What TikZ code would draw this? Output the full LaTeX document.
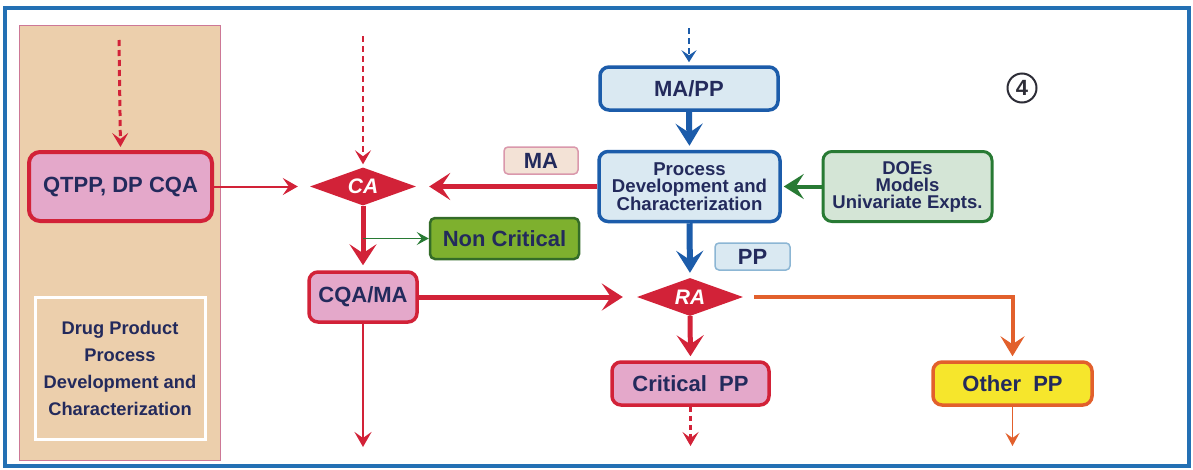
\documentclass[tikz,border=0pt]{standalone}
\usepackage{fontspec}
\setmainfont{Liberation Sans}
\usetikzlibrary{arrows.meta,shapes.geometric}

\definecolor{navy}{RGB}{35,42,92}
\definecolor{frameblue}{RGB}{35,112,180}
\definecolor{cred}{RGB}{210,34,56}
\definecolor{cpink}{RGB}{228,168,202}
\definecolor{cblue}{RGB}{28,92,170}
\definecolor{cltblue}{RGB}{218,233,242}
\definecolor{cgreen}{RGB}{40,122,52}
\definecolor{cltgreen}{RGB}{212,229,214}
\definecolor{ncfill}{RGB}{126,176,46}
\definecolor{ncdraw}{RGB}{52,108,40}
\definecolor{corange}{RGB}{226,96,44}
\definecolor{cyellow}{RGB}{246,230,44}
\definecolor{ctan}{RGB}{236,207,172}
\definecolor{tanedge}{RGB}{205,120,150}
\definecolor{malfill}{RGB}{243,226,214}
\definecolor{maldraw}{RGB}{218,152,172}
\definecolor{ppdraw}{RGB}{140,182,212}
\definecolor{circgray}{RGB}{45,45,55}

\tikzset{
  big/.style={font=\fontsize{22}{24}\selectfont\bfseries},
  box/.style={rectangle, rounded corners=9pt, line width=3.5pt, inner sep=0pt,
    text=navy, align=center},
  redbox/.style={box, big, draw=cred, fill=cpink},
  bluebox/.style={box, draw=cblue, fill=cltblue},
  labelbox/.style={rectangle, rounded corners=4pt, line width=1.5pt, inner sep=0pt,
    text=navy, big},
  decision/.style={diamond, fill=cred, draw=none, inner sep=0pt, aspect=2.8,
    minimum width=106pt, minimum height=38pt, text=white,
    font=\fontsize{21}{24}\selectfont\bfseries\itshape},
  thickred/.style={draw=cred, line width=5pt,
    -{Stealth[length=21pt,width=27pt,inset=9pt]}},
  thinred/.style={draw=cred, line width=2pt,
    -{Stealth[length=15pt,width=17pt,inset=6pt]}},
  dashred/.style={draw=cred, line width=3pt, dash pattern=on 6pt off 4pt,
    -{Stealth[length=14pt,width=16pt,inset=6pt]}},
  thickblue/.style={draw=cblue, line width=6pt,
    -{Stealth[length=22pt,width=27pt,inset=9pt]}},
  dashblue/.style={draw=cblue, line width=2.5pt, dash pattern=on 6pt off 4pt,
    -{Stealth[length=12pt,width=15pt,inset=5pt]}},
}

\begin{document}
\begin{tikzpicture}[x=1pt,y=-1pt]
\useasboundingbox (0,0) rectangle (1193,469);
\fill[white] (0,0) rectangle (1193,469);

% outer frame
\draw[frameblue, line width=4.5pt] (5,8) rectangle (1189,466);

% left panel
\node[rectangle, fill=ctan, draw=tanedge, line width=1pt, minimum width=201pt,
  minimum height=435pt, inner sep=0pt] (panel) at (119.5,242.5) {};
\node[rectangle, draw=white, line width=3pt, minimum width=170pt, minimum height=142pt,
  inner sep=0pt, text=navy, align=center,
  font=\fontsize{18.3}{27}\selectfont\bfseries] (dpbox) at (120,368)
  {Drug Product\\Process\\Development and\\Characterization};

% nodes
\node[redbox, rounded corners=11pt, line width=4pt, minimum width=183pt, minimum height=69pt]
  (qtpp) at (120.5,186.5) {QTPP, DP CQA};
\node[decision] (ca) at (363,186.5) {CA};
\node[box, big, draw=ncdraw, fill=ncfill, rounded corners=5pt, line width=2.5pt,
  minimum width=149pt, minimum height=41pt] (noncrit) at (504.5,238.5) {Non Critical};
\node[redbox, minimum width=108pt, minimum height=50pt] (cqama) at (363,297) {CQA/MA};
\node[decision] (ra) at (690,297) {RA};
\node[redbox, minimum width=157pt, minimum height=43pt] (critpp) at (690.5,383.5)
  {Critical~~PP};
\node[box, big, draw=corange, fill=cyellow, minimum width=159pt, minimum height=43pt]
  (otherpp) at (1012.5,383.5) {Other~~PP};
\node[bluebox, big, minimum width=178pt, minimum height=43pt] (mapp) at (689,88.5) {MA/PP};
\node[bluebox, minimum width=181pt, minimum height=70pt,
  font=\fontsize{18.6}{17.5}\selectfont\bfseries] (procdev) at (689.5,186.5)
  {Process\\Development and\\Characterization};
\node[labelbox, fill=malfill, draw=maldraw, minimum width=74pt, minimum height=27pt]
  (malabel) at (541,160.5) {MA};
\node[labelbox, fill=cltblue, draw=ppdraw, minimum width=75pt, minimum height=27pt]
  (pplabel) at (752.5,256.5) {PP};
\node[box, draw=cgreen, fill=cltgreen, line width=3pt, minimum width=169pt,
  minimum height=70pt, font=\fontsize{18.5}{17}\selectfont\bfseries]
  (does) at (907.5,186.5) {DOEs\\Models\\Univariate Expts.};
\node[circle, draw=circgray, line width=2pt, minimum size=29pt, inner sep=0pt,
  text=circgray, font=\fontsize{22}{24}\selectfont\bfseries] (four) at (1022,88) {4};

% free ends of the incoming and outgoing connectors
\coordinate (inq) at (119,40);
\coordinate (inca) at (363,36);
\coordinate (inmapp) at (689,28);
\coordinate (outcqa) at (363,447);
\coordinate (outcrit) at (690.5,446);
\coordinate (outother) at (1012.5,446);
\coordinate (branch) at (363,238.5);

% connectors
\draw[dashred, shorten >=3pt] (inq) -- (qtpp.north);
\draw[dashred, line width=2pt, shorten >=3pt] (inca) -- (ca.north);
\draw[thinred, shorten >=12pt] (qtpp.east) -- (ca.west);
\draw[thickred, shorten >=13pt] (procdev.west) -- (ca.east);
\draw[thickred, shorten >=5pt] (ca.south) -- (cqama.north);
\draw[draw=cgreen, line width=1.5pt, -{Stealth[length=12pt,width=13pt,inset=5pt]}]
  (branch) -- (noncrit.west);
\draw[thinred] (cqama.south) -- (outcqa);
\draw[thickred, shorten >=14pt] (cqama.east) -- (ra.west);
\draw[thickred, shorten >=4pt] (ra.south) -- (critpp.north);
\draw[dashred, line width=2.5pt, dash pattern=on 5pt off 4pt] (critpp.south) -- (outcrit);
\draw[draw=corange, line width=4pt, shorten <=11pt, shorten >=4pt,
  -{Stealth[length=20pt,width=24pt,inset=8pt]}] (ra.east) -| (otherpp.north);
\draw[draw=corange, line width=1.5pt, -{Stealth[length=13pt,width=14pt,inset=5pt]}]
  (otherpp.south) -- (outother);
\draw[dashblue, shorten >=3pt] (inmapp) -- (mapp.north);
\draw[thickblue, shorten >=4pt] (mapp.south) -- (procdev.north);
\draw[thickblue, shorten >=5pt] (procdev.south) -- (ra.north);
\draw[draw=cgreen, line width=4pt, shorten >=2pt,
  -{Stealth[length=20pt,width=25pt,inset=8pt]}] (does.west) -- (procdev.east);
\end{tikzpicture}
\end{document}
